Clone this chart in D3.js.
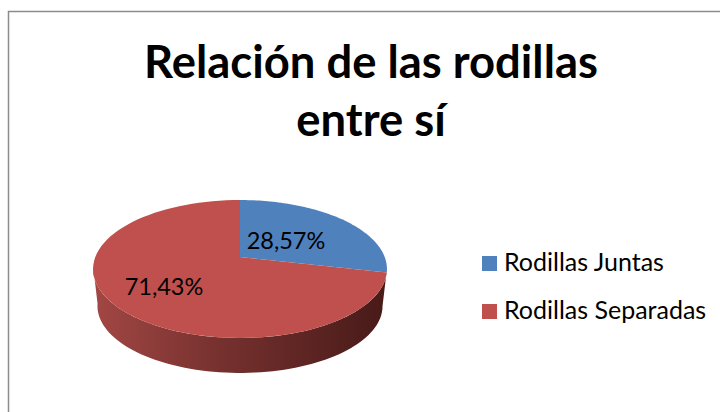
<!DOCTYPE html>
<html>
<head>
<meta charset="utf-8">
<script src="https://cdn.jsdelivr.net/npm/d3@7"></script>
<style>
  html, body { margin: 0; padding: 0; background: #fff; }
  svg { display: block; }
  text { font-family: Lato, "Open Sans", sans-serif; fill: #000; }
</style>
</head>
<body>
<svg id="chart" width="720" height="412"></svg>
<script>
var categories = ["Rodillas Juntas", "Rodillas Separadas"];
var values = [28.57, 71.43];
var valueLabels = ["28,57%", "71,43%"];
var colors = ["#4f81bd", "#c0504d"];
var titleLines = ["Relación de las rodillas", "entre sí"];

var svg = d3.select("svg#chart");

// frame, open on the right and at the bottom like the source crop
svg.append("path")
  .attr("d", "M8.5,412V11.5H720")
  .attr("fill", "none")
  .attr("stroke", "#8c8c8c")
  .attr("stroke-width", 1.5);

svg.selectAll("text.title")
  .data(titleLines)
  .enter()
  .append("text")
  .attr("class", "title")
  .attr("x", 371)
  .attr("y", function(d, i) { return 78 + i * 58; })
  .attr("text-anchor", "middle")
  .attr("font-weight", "bold")
  .style("font-size", "45.4px")
  .text(function(d) { return d; });

// the pie is tilted with perspective, so the near half looks bigger
var cx = 240, cy = 257, rx = 144.7, ry = 66.9, k = 0.174;
function project(angle, scale, top) {
  var u = Math.sin(angle), v = -Math.cos(angle);
  var w = 1 - k * v;
  return [cx + scale * rx * u / w, top + scale * ry * v / w];
}
function arcPoints(a0, a1, scale, top) {
  return d3.range(0, 81).map(function(i) {
    return project(a0 + (a1 - a0) * i / 80, scale, top);
  });
}
var line = d3.line();

var arcs = d3.pie().sort(null)(values);

// side wall, only the front of the red slice is visible
var defs = svg.append("defs");
var grad = defs.append("linearGradient")
  .attr("id", "wall")
  .attr("gradientUnits", "userSpaceOnUse")
  .attr("x1", 93).attr("x2", 387)
  .attr("y1", 0).attr("y2", 0);
grad.append("stop").attr("offset", "0").attr("stop-color", "#a24744");
grad.append("stop").attr("offset", "0.45").attr("stop-color", "#74302e");
grad.append("stop").attr("offset", "1").attr("stop-color", "#471a18");

var wallStart = 100 * Math.PI / 180, wallEnd = 262 * Math.PI / 180;
var wallPts = arcPoints(wallStart, wallEnd, 1, cy)
  .concat(arcPoints(wallEnd, wallStart, 0.97, 294.4));
svg.append("path")
  .attr("d", line(wallPts) + "Z")
  .attr("fill", "url(#wall)");

svg.selectAll("path.slice")
  .data(arcs)
  .enter()
  .append("path")
  .attr("class", "slice")
  .attr("d", function(d) {
    return line([[cx, cy]].concat(arcPoints(d.startAngle, d.endAngle, 1, cy))) + "Z";
  })
  .attr("fill", function(d, i) { return colors[i]; });

var labelPos = [[286, 249], [164, 295]];
svg.selectAll("text.value")
  .data(valueLabels)
  .enter()
  .append("text")
  .attr("class", "value")
  .attr("x", function(d, i) { return labelPos[i][0]; })
  .attr("y", function(d, i) { return labelPos[i][1]; })
  .attr("text-anchor", "middle")
  .style("font-size", "23.5px")
  .text(function(d) { return d; });

// legend
var legend = svg.selectAll("g.legend")
  .data(categories)
  .enter()
  .append("g")
  .attr("class", "legend")
  .attr("transform", function(d, i) { return "translate(482," + (256 + i * 48) + ")"; });
legend.append("rect")
  .attr("width", 15)
  .attr("height", 15)
  .attr("fill", function(d, i) { return colors[i]; });
legend.append("text")
  .attr("x", 22)
  .attr("y", 15)
  .style("font-size", "25px")
  .text(function(d) { return d; });
</script>
</body>
</html>
